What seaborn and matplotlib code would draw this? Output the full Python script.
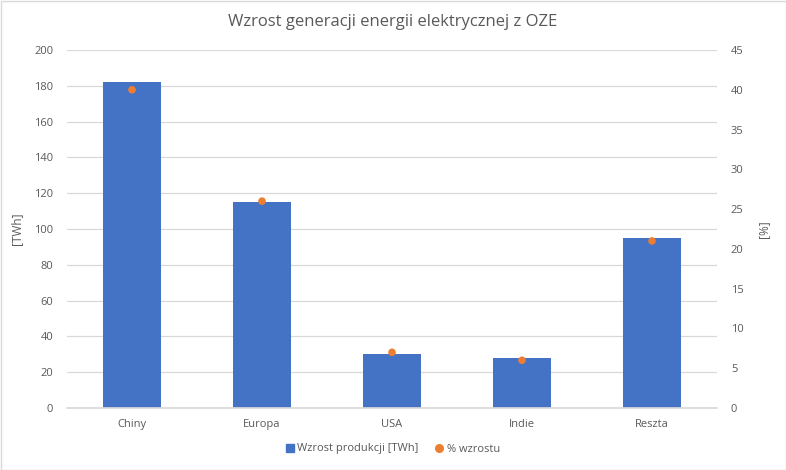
import matplotlib
matplotlib.use("Agg")
import matplotlib.pyplot as plt
import seaborn as sns
import pandas as pd
from matplotlib.patches import Rectangle
from matplotlib.lines import Line2D

categories = ["Chiny", "Europa", "USA", "Indie", "Reszta"]
production_twh = [182, 115, 30, 28, 95]
growth_pct = [40, 26, 7, 6, 21]

sns.set_theme(style="white")
plt.rcParams['font.family'] = ['Open Sans', 'DejaVu Sans']

gray = "#595959"
blue = "#4472C4"
orange = "#ED7D31"

df = pd.DataFrame({"kraj": categories, "twh": production_twh, "pct": growth_pct})

fig = plt.figure(figsize=(7.86, 4.70), dpi=100)
ax = fig.add_axes([67/786, 1-408/470, (717-67)/786, (408-50)/470])
sns.barplot(data=df, x="kraj", y="twh", color=blue, width=0.45, ax=ax, saturation=1,
            edgecolor="none")
ax.set_ylim(0, 200)
ax.set_yticks(range(0, 201, 20))
ax.grid(axis="y", color="#D9D9D9", linewidth=0.9)
ax.set_axisbelow(True)
for s in ["top", "right", "left"]:
    ax.spines[s].set_visible(False)
ax.spines["bottom"].set_color("#D9D9D9")
ax.set_xlabel("")
ax.set_ylabel("[TWh]", color=gray, fontsize=8.5, labelpad=8)
ax.tick_params(axis="both", colors=gray, labelsize=8, length=0)
ax.tick_params(axis="y", pad=10)
ax.tick_params(axis="x", pad=8)

ax2 = ax.twinx()
sns.scatterplot(data=df, x="kraj", y="pct", color=orange, s=30, edgecolor="none", ax=ax2, zorder=5)
ax2.set_ylim(0, 45)
ax2.set_yticks(range(0, 46, 5))
for s in ["top", "right", "left", "bottom"]:
    ax2.spines[s].set_visible(False)
ax2.set_ylabel("[%]", color=gray, fontsize=8.5, labelpad=10)
ax2.tick_params(axis="y", colors=gray, labelsize=8, length=0, pad=10)
ax2.set_xlabel("")
ax.set_xlim(-0.5, 4.5)
ax2.set_xlim(-0.5, 4.5)

fig.suptitle("Wzrost generacji energii elektrycznej z OZE", y=1-22/470, va="center",
             color=gray, fontsize=12)

handles = [Rectangle((0, 0), 1, 1, color=blue),
           Line2D([], [], marker="o", color=orange, linestyle="none", markersize=5.5)]
fig.legend(handles, ["Wzrost produkcji [TWh]", "% wzrostu"], loc="center",
           bbox_to_anchor=(0.5, 1-449/470), ncol=2, frameon=False, fontsize=8,
           labelcolor=gray, handlelength=0.7, handleheight=0.7, handletextpad=0.3,
           columnspacing=1.5)

fig.patches.append(Rectangle((0.5/786, 0.5/470), 1-1/786, 1-1/470, transform=fig.transFigure,
                             fill=False, edgecolor="#D9D9D9", linewidth=1))
fig.savefig("out.png", dpi=100)
